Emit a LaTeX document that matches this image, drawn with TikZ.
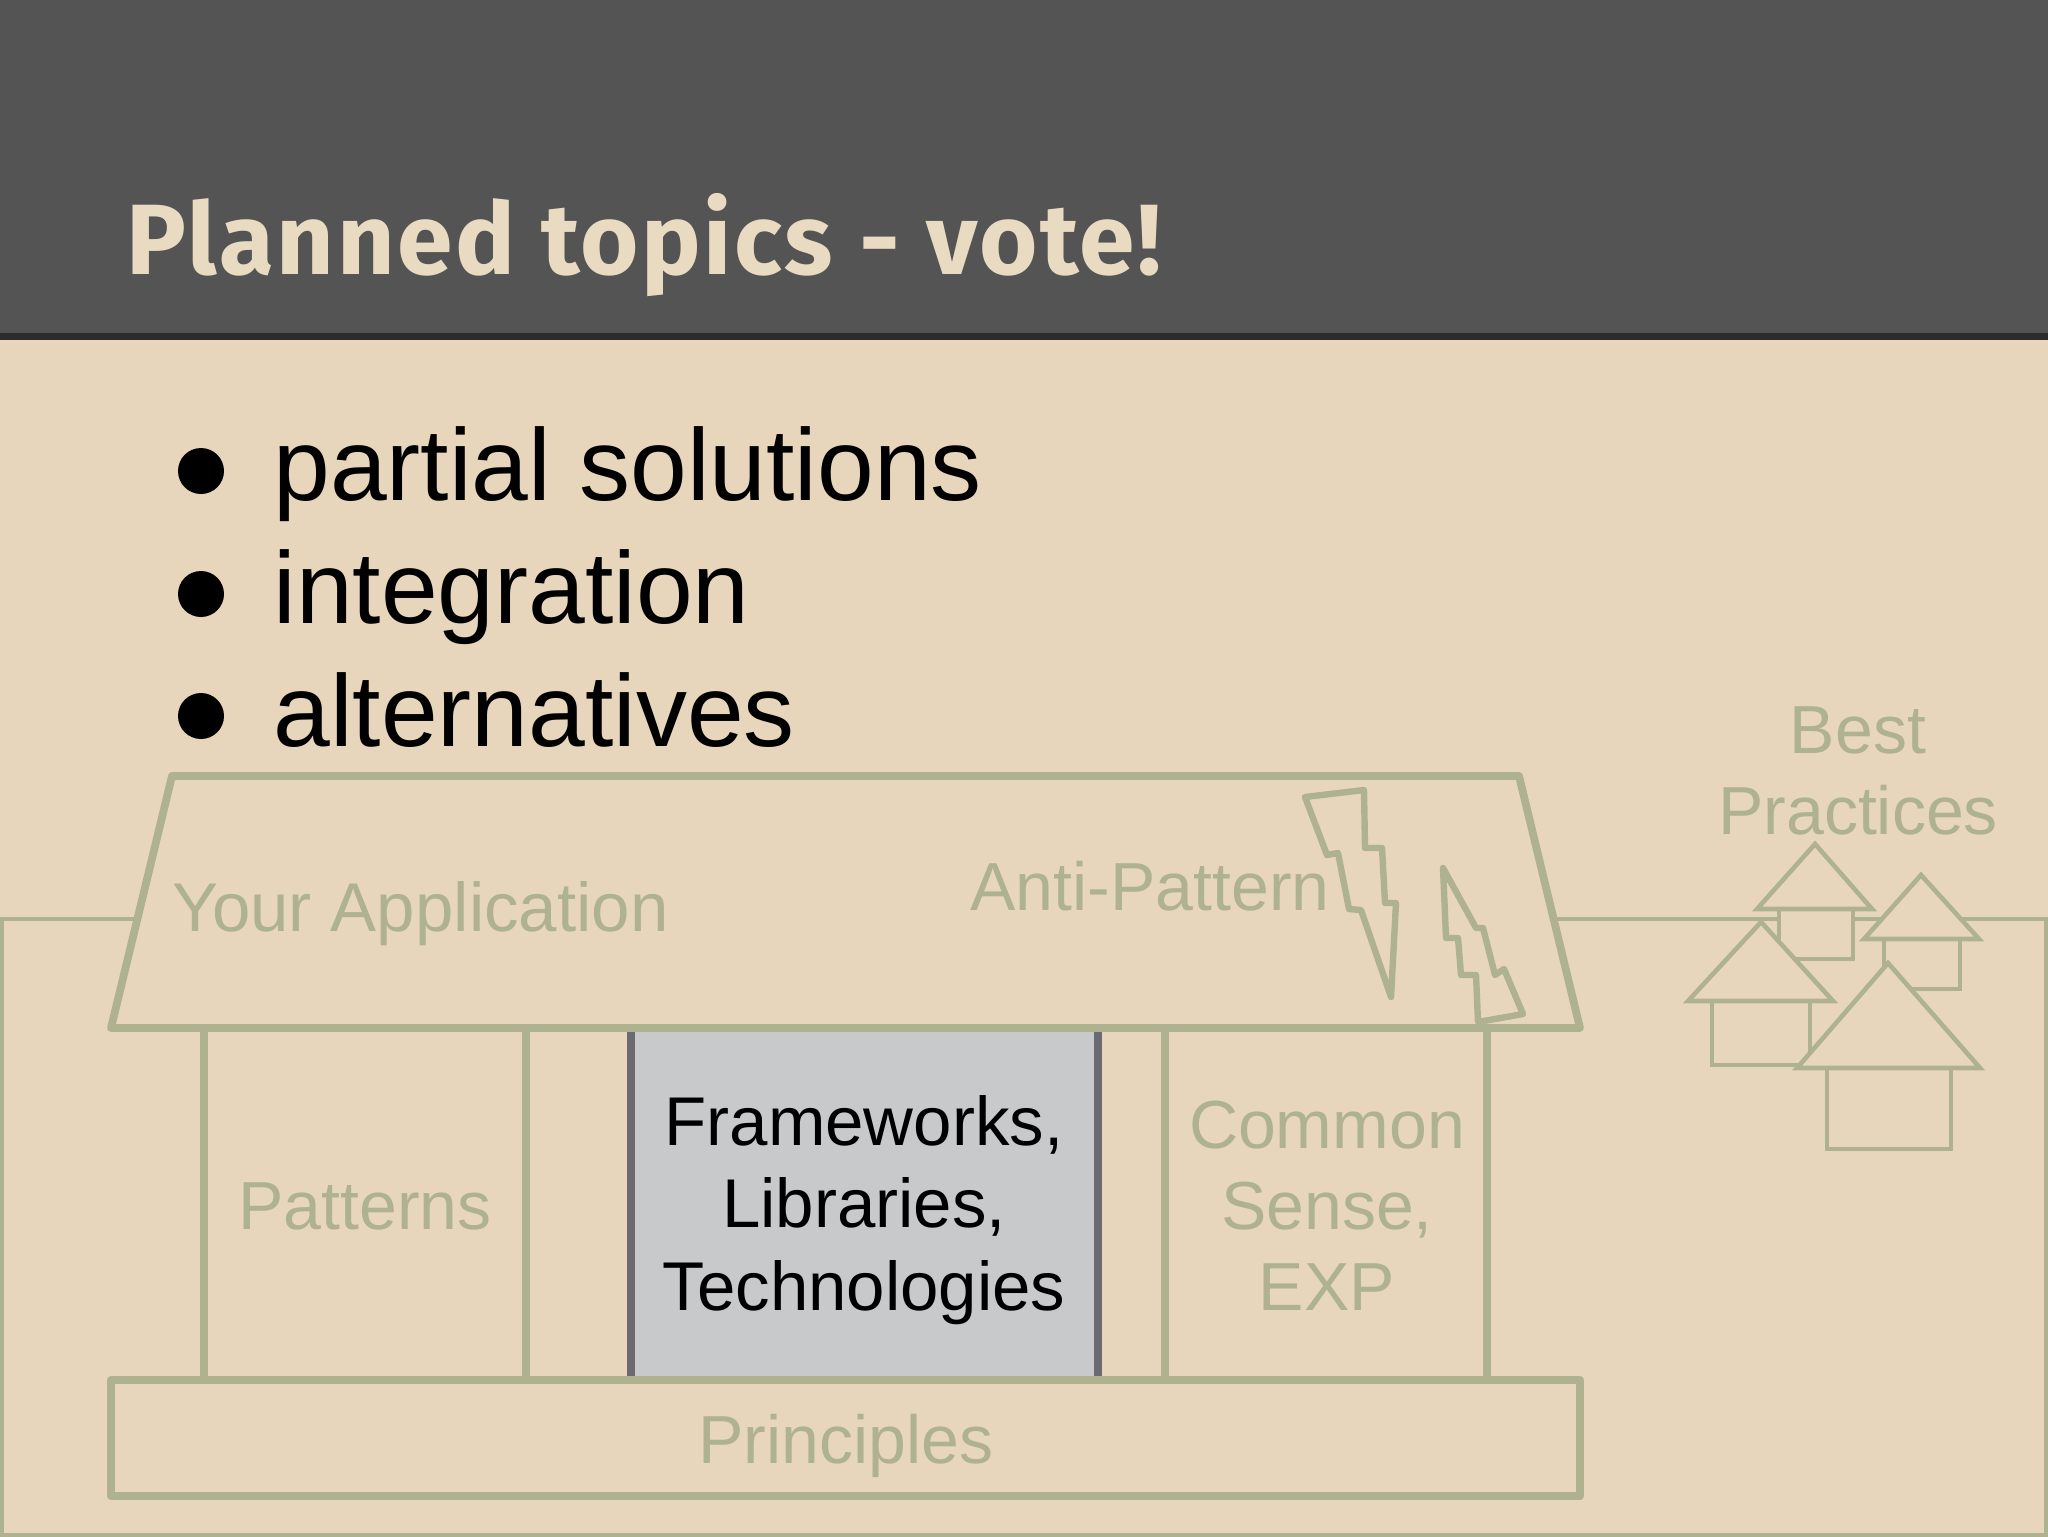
\documentclass[tikz,border=0pt]{standalone}
\usepackage{fontspec}
\setmainfont{Liberation Sans}
\newfontfamily\titlefont[LetterSpace=2.5]{Fira Sans}
\definecolor{paper}{HTML}{E8D6BC}
\definecolor{sage}{HTML}{AEB28F}
\definecolor{head}{HTML}{545454}
\definecolor{headrule}{HTML}{2C2C2C}
\definecolor{titlecol}{HTML}{E9DBC2}
\definecolor{boxfill}{HTML}{C8C9CB}
\definecolor{boxedge}{HTML}{6A6A70}
\tikzset{
  x=0.5pt,y=-0.5pt,
  heavy/.style={draw=sage,line width=3.9pt,line join=round,fill=paper},
  pillar/.style={draw=sage,line width=3.6pt},
  thin rule/.style={draw=sage,line width=1.7pt},
  houseline/.style={draw=sage,line width=2.3pt,fill=paper,line join=miter},
  bolt/.style={draw=sage,line width=3.2pt,fill=paper,line join=round},
  faint/.style={text=sage,font=\fontsize{34}{40.5}\selectfont,align=center,inner sep=0pt},
  dark/.style={text=black,font=\fontsize{34.5}{41.4}\selectfont,align=center,inner sep=0pt},
  bigtext/.style={text=black,font=\fontsize{51}{60}\selectfont,anchor=base west,inner sep=0pt},
  dot/.style={circle,fill=black,inner sep=0pt,minimum size=23pt}
}
\begin{document}
\begin{tikzpicture}
\useasboundingbox (0,0) rectangle (2048,1536);
\fill[paper] (0,0) rectangle (2048,1536);
\fill[head] (0,0) rectangle (2048,334);
\fill[headrule] (0,333) rectangle (2048,340);
\node[anchor=base west,inner sep=0pt,text=titlecol,font=\titlefont\bfseries\fontsize{50}{60}\selectfont] (title) at (126,274) {Planned topics - vote!};
% ground outline
\draw[thin rule] (140,919) -- (2,919) -- (2,1535) -- (2046,1535) -- (2046,919) -- (1550,919);
% bullets
\node[dot] (b1) at (201,471) {};
\node[dot] (b2) at (201,594) {};
\node[dot] (b3) at (201,716) {};
\node[bigtext] (t1) at (273,500) {partial solutions};
\node[bigtext] (t2) at (273,623) {integration};
\node[bigtext] (t3) at (273,746) {alternatives};
% grey column
\fill[boxfill] (630,1028) rectangle (1098,1380);
\draw[boxedge,line width=4pt] (631,1028) -- (631,1380);
\draw[boxedge,line width=4pt] (1098,1028) -- (1098,1380);
% pillars
\draw[pillar] (204,1028) -- (204,1380);
\draw[pillar] (526,1028) -- (526,1380);
\draw[pillar] (1165,1028) -- (1165,1380);
\draw[pillar] (1487,1028) -- (1487,1380);
% roof and base
\draw[heavy] (172,776) -- (1519,776) -- (1580,1028) -- (111,1028) -- cycle;
\draw[heavy] (111,1380) rectangle (1580,1496);
% lightning
\draw[bolt] (1305,797) -- (1364,790) -- (1365,848) -- (1382,848) -- (1385,903) -- (1396,903) -- (1391,997) -- (1361,910) -- (1349,909) -- (1338,853) -- (1327,855) -- cycle;
\draw[bolt] (1443,868) -- (1476,928) -- (1483,928) -- (1495,975) -- (1504,969) -- (1523,1014) -- (1478,1022) -- (1476,975) -- (1461,975) -- (1458,938) -- (1446,938) -- cycle;
% houses
\draw[houseline] (1779,909) rectangle (1853,959);
\draw[houseline] (1815,844) -- (1872,909) -- (1757,909) -- cycle;
\draw[houseline] (1884,939) rectangle (1960,989);
\draw[houseline] (1921,875) -- (1979,939) -- (1864,939) -- cycle;
\draw[houseline] (1712,1001) rectangle (1810,1065);
\draw[houseline] (1761,922) -- (1833,1001) -- (1688,1001) -- cycle;
\draw[houseline] (1827,1068) rectangle (1951,1149);
\draw[houseline] (1888,963) -- (1980,1068) -- (1797,1068) -- cycle;
% labels
\node[faint,anchor=base west,font=\fontsize{34.5}{41}\selectfont] (app) at (172,931) {Your Application};
\node[faint,anchor=base east] (anti) at (1330,910) {Anti-Pattern};
\node[faint] (best) at (1858,771) {Best\\Practices};
\node[faint] (pat) at (365,1206) {Patterns};
\node[dark] (fw) at (864,1210) {Frameworks,\\Libraries,\\Technologies};
\node[faint] (cs) at (1327,1206) {Common\\Sense,\\EXP};
\node[faint] (pr) at (846,1446) {Principles};
\end{tikzpicture}
\end{document}
